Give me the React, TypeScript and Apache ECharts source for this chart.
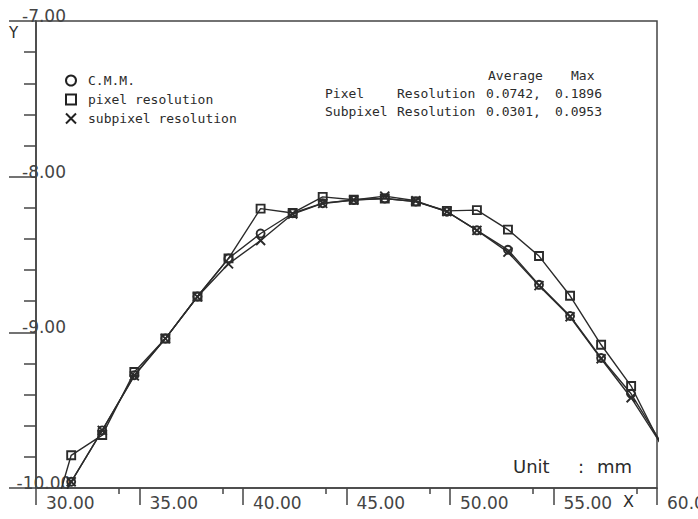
import React, { useEffect, useRef } from "react";
import * as echarts from "echarts";

// ---- data (mm) ----
const xValues = [30.2, 31.7, 33.2, 34.75, 36.25, 37.8, 39.3, 40.85, 42.4, 43.85, 45.35, 46.85, 48.35, 49.85, 51.3, 52.8, 54.3, 55.8, 57.3, 58.75, 60.25];
const cmm = [-10.33, -9.96, -9.63, -9.275, -9.04, -8.77, -8.525, -8.365, -8.235, -8.17, -8.15, -8.14, -8.16, -8.225, -8.345, -8.47, -8.695, -8.895, -9.165, -9.395, -9.72];
const pixelRes = [-10.47, -9.79, -9.66, -9.255, -9.04, -8.77, -8.525, -8.205, -8.233, -8.13, -8.148, -8.14, -8.16, -8.22, -8.215, -8.34, -8.51, -8.765, -9.08, -9.345, -9.74];
const subpixelRes = [-10.33, -9.96, -9.63, -9.28, -9.04, -8.772, -8.56, -8.41, -8.24, -8.172, -8.15, -8.125, -8.155, -8.225, -8.345, -8.485, -8.7, -8.9, -9.17, -9.42, -9.73];

const seriesNames = ["C.M.M.", "pixel resolution", "subpixel resolution"];
const minorXTicks = [34, 39, 44, 49, 54, 59];

const statsHeader = ["Average", "Max"];
const statsRows = [
  ["Pixel", "Resolution", "0.0742,", "0.1896"],
  ["Subpixel", "Resolution", "0.0301,", "0.0953"],
];

const INK = "#2b2b2b";
const AXIS = "#444";
const X_SYMBOL = "path://M1,1L9,9M9,1L1,9";
const MONO = "DejaVu Sans Mono";
const SANS = "DejaVu Sans";

function pairs(ys: number[]) {
  return xValues.map((x, i) => [x, ys[i]]);
}

function lineSeries(name: string, ys: number[], symbol: string, size: number) {
  return {
    type: "line",
    name,
    data: pairs(ys),
    symbol,
    symbolSize: size,
    clip: true,
    lineStyle: { color: INK, width: 1.4 },
    itemStyle: { color: "rgba(0,0,0,0)", borderColor: INK, borderWidth: 1.9 },
    emphasis: { disabled: true },
  };
}

function txt(text: string, x: number, y: number, size: number, family: string, align = "left") {
  return {
    type: "text",
    x,
    y,
    silent: true,
    style: {
      text,
      fontSize: size,
      fontFamily: family,
      fill: INK,
      textAlign: align,
      textVerticalAlign: "middle",
    },
  };
}

export default function App() {
  const ref = useRef<HTMLDivElement>(null);
  useEffect(() => {
    if (!ref.current) return;
    const chart = echarts.init(ref.current, undefined, { renderer: "svg" });
    const statCols = [325, 397, 486, 555];
    const graphics: any[] = [
      txt("Y", 9, 33, 15, SANS),
      txt("X", 623, 501, 16, SANS),
      txt("Unit", 513, 466, 18, SANS),
      txt(":", 578, 466, 18, SANS),
      txt("mm", 597, 466, 18, SANS),
      txt(statsHeader[0], 488, 75, 13, MONO),
      txt(statsHeader[1], 571, 75, 13, MONO),
    ];
    statsRows.forEach((row, r) => {
      row.forEach((cell, c) => {
        graphics.push(txt(cell, statCols[c], 93 + r * 18, 13, MONO));
      });
    });

    chart.setOption({
      animation: false,
      backgroundColor: "#fff",
      grid: {
        left: 36,
        right: 41,
        top: 21,
        bottom: 31,
        show: true,
        borderColor: AXIS,
        borderWidth: 1.5,
        outerBoundsMode: "none",
        containLabel: false,
      },
      legend: {
        orient: "vertical",
        left: 60,
        top: 69,
        itemWidth: 10,
        itemHeight: 10,
        itemGap: 6,
        selectedMode: false,
        data: [
          { name: seriesNames[0], icon: "circle" },
          { name: seriesNames[1], icon: "rect" },
          { name: seriesNames[2], icon: X_SYMBOL },
        ],
        itemStyle: { color: "rgba(0,0,0,0)", borderColor: "#222", borderWidth: 2 },
        textStyle: {
          fontFamily: MONO,
          fontSize: 13,
          lineHeight: 12,
          color: INK,
          padding: [0, 0, 0, 7],
        },
      },
      xAxis: [
        {
          type: "value",
          min: 30,
          max: 60,
          interval: 5,
          axisLine: { show: true, lineStyle: { color: AXIS, width: 1.5 } },
          axisTick: { show: true, length: 17, lineStyle: { color: AXIS, width: 1.5 } },
          splitLine: { show: false },
          axisLabel: {
            show: true,
            showMinLabel: true,
            showMaxLabel: true,
            formatter: (v: number) => v.toFixed(2),
            align: "left",
            margin: 6,
            padding: [0, 0, 0, 10],
            fontFamily: SANS,
            fontSize: 17,
            lineHeight: 17,
            color: AXIS,
          },
        },
        {
          type: "value",
          min: 30,
          max: 60,
          position: "bottom",
          axisLine: { show: false },
          axisTick: {
            show: true,
            length: 6,
            customValues: minorXTicks,
            lineStyle: { color: AXIS, width: 1.5 },
          },
          axisLabel: { show: false },
          splitLine: { show: false },
        },
      ],
      yAxis: {
        type: "value",
        min: -10,
        max: -7,
        interval: 1,
        axisLine: { show: true, lineStyle: { color: AXIS, width: 1.5 } },
        axisTick: { show: true, length: 27, lineStyle: { color: AXIS, width: 1.5 } },
        minorTick: { show: true, splitNumber: 5, length: 12, lineStyle: { color: AXIS, width: 1.5 } },
        splitLine: { show: false },
        minorSplitLine: { show: false },
        axisLabel: {
          showMinLabel: true,
          showMaxLabel: true,
          formatter: (v: number) => v.toFixed(2),
          align: "center",
          verticalAlign: "bottom",
          margin: 0,
          padding: [0, 0, 0, 16],
          fontFamily: SANS,
          fontSize: 17,
          lineHeight: 10,
          color: AXIS,
        },
      },
      series: [
        lineSeries(seriesNames[0], cmm, "circle", 8),
        lineSeries(seriesNames[1], pixelRes, "rect", 8),
        lineSeries(seriesNames[2], subpixelRes, X_SYMBOL, 9),
      ],
      graphic: graphics,
    });
    return () => chart.dispose();
  }, []);

  return (
    <div
      ref={ref}
      style={{ position: "fixed", left: 0, top: 0, width: 698, height: 519, background: "#fff" }}
    />
  );
}
